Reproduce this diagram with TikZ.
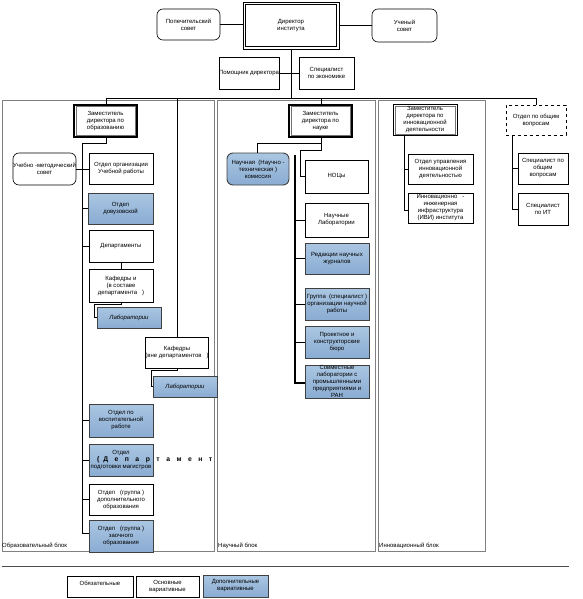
\documentclass[tikz,border=0pt]{standalone}
\usepackage{fontspec}
\setmainfont{Liberation Sans}
\usetikzlibrary{calc}
\definecolor{blueA}{RGB}{170,198,226}
\definecolor{blueB}{RGB}{138,172,210}
\definecolor{blkgray}{RGB}{128,128,128}
\begin{document}
\begin{tikzpicture}[x=1pt,y=-1pt,
  every node/.style={font=\fontsize{6}{7}\selectfont, align=center, inner sep=0pt},
  box/.style={draw=black, line width=0.6pt, fill=white, minimum width=#1, minimum height=31},
  box/.default=64,
  bluebox/.style={draw=black!75, line width=0.9pt, top color=blueA, bottom color=blueB, minimum width=64, minimum height=32},
  rbox/.style={box=63, rounded corners=6pt, minimum height=32},
  zam/.style={box=63, minimum height=32, line width=1.3pt, path picture={\draw[line width=0.4pt, black!55] ([shift={(1.7pt,-1.7pt)}]path picture bounding box.north west) rectangle ([shift={(-1.7pt,1.7pt)}]path picture bounding box.south east);}},
  dirbox/.style={box=96, minimum height=47, line width=0.8pt, path picture={\draw[line width=0.8pt, black] ([shift={(2.4pt,-2.4pt)}]path picture bounding box.north west) rectangle ([shift={(-2.4pt,2.4pt)}]path picture bounding box.south east);}},
  blk/.style={draw=blkgray, line width=0.8pt},
  ln/.style={draw=black, line width=0.6pt},
  spine/.style={draw=black, line width=1.6pt},
]
\useasboundingbox (0,0) rectangle (582,599);
% blocks
\draw[blk] (2,100) rectangle (214,551);
\draw[blk] (217,100) rectangle (375,551);
\draw[blk] (378,100) rectangle (485,551);
\node[anchor=west] (lbe) at (2,546) {Образовательный блок};
\node[anchor=west] (lbs) at (218,546) {Научный блок};
\node[anchor=west] (lbi) at (379,546) {Инновационный блок};

% top
\node[box=63, rounded corners=6pt] (pop) at (188.5,24.5) {Попечительский\\совет};
\node[dirbox] (dir) at (291,25.5) {Директор\\института};
\node[box=65, rounded corners=6pt, minimum height=33] (uch) at (404.5,25.5) {Ученый\\совет};
\node[box=58, minimum height=32] (pom) at (249,73) {Помощник директора};
\node[box=55, minimum height=32] (econ) at (326.5,73) {Специалист\\по экономике};
\draw[ln] (pop.east) -- (pop.east -| dir.west);
\draw[ln] (dir.east) -- (dir.east -| uch.west);
\coordinate (busc) at (291,98);
\draw[ln] (dir.south) -- (busc);
\draw[ln] (pom.east) -- (econ.west);

% second level heads
\node[zam] (zamobr) at (105.5,121) {Заместитель\\директора по\\образованию};
\node[zam] (zamnauk) at (320.5,121) {Заместитель\\директора по\\науке};
\node[zam, minimum height=30, box=64] (zaminn) at (425,120) {Заместитель\\директора по\\инновационной\\деятельности};
\node[box=60, minimum height=30, dashed] (obsh) at (536,120) {Отдел по общим\\вопросам};
\coordinate (busl) at (106,98);
\coordinate (busr) at (536,98);
\draw[ln] (busl) -- (busr);
\draw[ln] (busl) -- (zamobr.north -| busl);

% education block
\node[rbox] (ums) at (44.5,169) {Учебно -методический\\совет};
\node[box] (ouch) at (121,168.5) {Отдел организации\\Учебной работы};
\node[bluebox, minimum width=65, minimum height=31] (dovuz) at (120.5,208.5) {Отдел\\довузовской};
\node[box, minimum height=32] (dep) at (121,246) {Департаменты};
\node[box, minimum height=33] (kaf1) at (121,285.5) {Кафедры и\\(в составе\\департамента~~~)};
\node[bluebox, minimum height=21] (lab1) at (129,317.5) {\itshape Лаборатории};
\node[box=62] (kaf2) at (177,352.5) {Кафедры\\(вне департаментов~~~)};
\node[bluebox, minimum height=21] (lab2) at (185,386.5) {\itshape Лаборатории};
\node[bluebox, minimum height=33] (vosp) at (121,420.5) {Отдел по\\воспитательной\\работе};
\node[bluebox] (mag) at (121,460) {Отдел\\\makebox[0pt][l]{\hspace*{-24pt}\fontsize{6.8}{7}\selectfont\bfseries (\hspace{4pt}Д\hspace{6.5pt}е\hspace{6.5pt}п\hspace{6.5pt}а\hspace{6.5pt}р\hspace{6.5pt}т\hspace{6.5pt}а\hspace{6.5pt}м\hspace{6.5pt}е\hspace{6.5pt}н\hspace{6.5pt}т}\\подготовки магистров};
\node[box] (dop) at (121,499.5) {Отдел~~~(группа~)\\дополнительного\\образования};
\node[bluebox] (zaoch) at (121,536) {Отдел~~~(группа~)\\заочного\\образования};

\coordinate (eb) at (106,143);
\coordinate (es) at (82,143);
\coordinate (ee) at (82,533);
\draw[ln] (zamobr.south -| eb) -- (eb) -- (es) -- (ee) -- (ee -| zaoch.west);
\draw[ln] (ums.east) -- (ums.east -| ouch.west);
\foreach \n in {dovuz,dep,vosp,mag,dop} \draw[ln] (\n.west -| es) -- (\n.west);
\draw[ln] (dep.south) -- (kaf1.north);
\coordinate (k1a) at (94,304);
\draw[ln] (kaf1.south) -- (kaf1.south |- k1a) -- (k1a) -- (k1a |- lab1.west) -- (lab1.west);
\coordinate (k2a) at (151,370);
\draw[ln] (177,98) -- (kaf2.north);
\draw[ln] (kaf2.south) -- (kaf2.south |- k2a) -- (k2a) -- (k2a |- lab2.west) -- (lab2.west);

% science block
\draw[ln] (321,98) -- (zamnauk.north -| 321,0);
\node[bluebox, rounded corners=6pt, minimum width=62] (ntk) at (258,169) {Научная~~(Научно -\\техническая~)\\комиссия};
\node[box=63, minimum height=33] (nocy) at (336.5,176.5) {НОЦы};
\node[box=63, minimum height=34] (nlab) at (336.5,220) {Научные\\Лаборатории};
\node[bluebox, minimum height=31] (red) at (337,258.5) {Редакции научных\\журналов};
\node[bluebox] (grp) at (337,304) {Группа~~(специалист~)\\организации научной\\работы};
\node[bluebox] (proj) at (337,342) {Проектное и\\конструкторские\\бюро};
\node[bluebox, minimum height=33] (sovm) at (337,381.5) {Совместные\\лаборатории с\\промышленными\\предприятиями и\\РАН};
\coordinate (sa) at (321,143);
\coordinate (sb) at (257,143);
\coordinate (sc) at (321,150);
\coordinate (sd) at (300,150);
\draw[ln] (zamnauk.south -| sa) -- (sa) -- (sb) -- (ntk.north -| sb);
\draw[ln] (sa) -- (sc) -- (sd) -- (sd |- nocy.west) -- (nocy.west);
\coordinate (st) at (295,155);
\coordinate (sbot) at (295,383);
\draw[spine] (st) -- (sbot) -- (sbot -| sovm.west);
\foreach \n in {nlab,red,grp,proj} \draw[ln] (\n.west -| st) -- (\n.west);

% innovation block
\node[box=65, minimum height=30] (oupr) at (440.5,169) {Отдел управления\\инновационной\\деятельностью};
\node[box=65, minimum height=30] (ivi) at (440.5,208) {Инновационно~~~-\\инженерная\\инфраструктура\\(ИВИ) института};
\coordinate (ia) at (404,210);
\draw[ln] (zaminn.south -| ia) -- (ia) -- (ia -| ivi.west);
\draw[ln] (oupr.west -| ia) -- (oupr.west);
% general questions
\draw[ln] (busr) -- (obsh.north);
\node[box=50] (spob) at (543,168.5) {Специалист по\\общим\\вопросам};
\node[box=50, minimum height=32] (spit) at (543,209) {Специалист\\по ИТ};
\coordinate (ga) at (512,209);
\draw[ln] (obsh.south -| ga) -- (ga) -- (spit.west);
\draw[ln] (spob.west -| ga) -- (spob.west);

% separator and legend
\coordinate (sepl) at (2,566);
\coordinate (sepr) at (569,566);
\draw[draw=black!70, line width=0.8pt] (sepl) -- (sepr);
\node[box=66, minimum height=21] (leg1) at (100,586.5) {Обязательные\\\phantom{x}};
\node[box=63, minimum height=21] (leg2) at (167.5,586.5) {Основные\\вариативные};
\node[bluebox, minimum width=65, minimum height=22] (leg3) at (235.5,586) {Дополнительные\\вариативные};
\end{tikzpicture}
\end{document}
